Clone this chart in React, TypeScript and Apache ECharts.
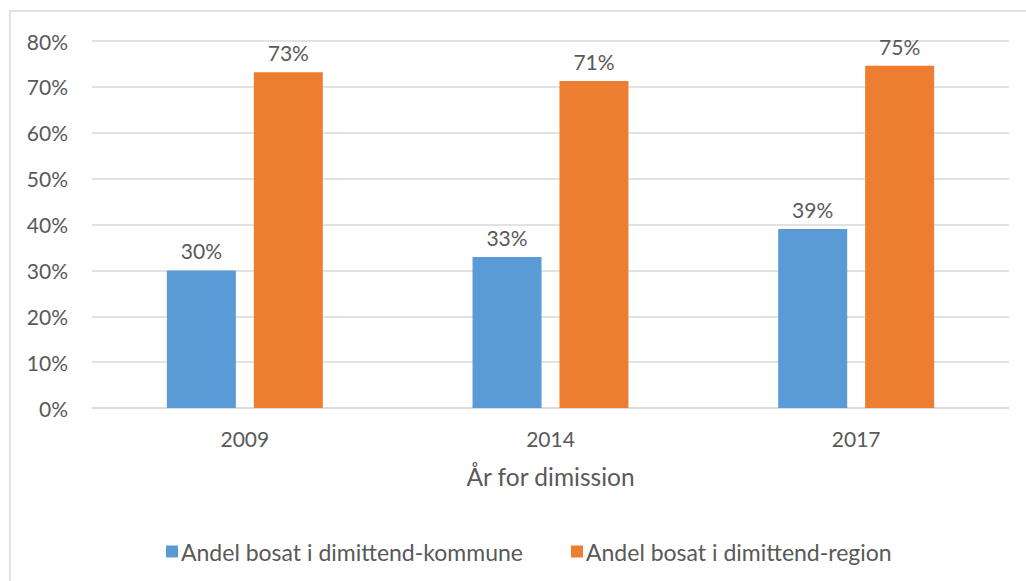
import React, { useEffect, useRef } from "react";
import * as echarts from "echarts";

const categories = ["2009", "2014", "2017"];
const seriesNames = ["Andel bosat i dimittend-kommune", "Andel bosat i dimittend-region"];
const kommuneValues = [30, 32.9, 39];
const regionValues = [73.2, 71.3, 74.6];
const xAxisTitle = "År for dimission";

const FONT = "Lato";
const TEXT = "#595959";

export default function App() {
  const ref = useRef<HTMLDivElement>(null);
  useEffect(() => {
    if (!ref.current) return;
    const chart = echarts.init(ref.current, undefined, { renderer: "svg" });
    const labelCfg = {
      show: true,
      position: "top",
      distance: 9,
      color: TEXT,
      fontSize: 21,
      fontFamily: FONT,
      formatter: (p: any) => Math.round(p.value) + "%",
    };
    chart.setOption({
      animation: false,
      backgroundColor: "#ffffff",
      textStyle: { fontFamily: FONT },
      graphic: [
        {
          type: "rect",
          shape: { x: 10, y: 11, width: 1100, height: 700 },
          style: { fill: "none", stroke: "#d9d9d9", lineWidth: 1.5 },
          silent: true,
        },
      ],
      grid: { left: 92, right: 17, top: 41, bottom: 173, containLabel: false },
      legend: {
        data: seriesNames,
        top: 535,
        left: 161,
        icon: "rect",
        itemWidth: 12,
        itemHeight: 12,
        itemGap: 48,
        textStyle: { color: TEXT, fontSize: 23, fontFamily: FONT, padding: [0, 0, 0, -2] },
      },
      xAxis: {
        type: "category",
        data: categories,
        name: xAxisTitle,
        nameLocation: "middle",
        nameGap: 56,
        nameTextStyle: { color: TEXT, fontSize: 24.5, fontFamily: FONT },
        axisLine: { lineStyle: { color: "#d9d9d9", width: 1.5 } },
        axisTick: { show: false },
        axisLabel: { color: TEXT, fontSize: 21, fontFamily: FONT, margin: 20 },
      },
      yAxis: {
        type: "value",
        min: 0,
        max: 80,
        interval: 10,
        axisLine: { show: false },
        axisTick: { show: false },
        axisLabel: { color: TEXT, fontSize: 21, fontFamily: FONT, margin: 24, formatter: "{value}%" },
        splitLine: { lineStyle: { color: "#d9d9d9", width: 1.5 } },
      },
      series: [
        {
          name: seriesNames[0],
          type: "bar",
          data: kommuneValues,
          barWidth: 69,
          barGap: "26%",
          itemStyle: { color: "#5B9BD5" },
          label: labelCfg,
        },
        {
          name: seriesNames[1],
          type: "bar",
          data: regionValues,
          barWidth: 69,
          barGap: "26%",
          itemStyle: { color: "#ED7D31" },
          label: labelCfg,
        },
      ],
    });
    return () => chart.dispose();
  }, []);
  return (
    <div
      ref={ref}
      style={{ position: "fixed", left: 0, top: 0, width: 1026, height: 581, background: "#fff" }}
    />
  );
}
